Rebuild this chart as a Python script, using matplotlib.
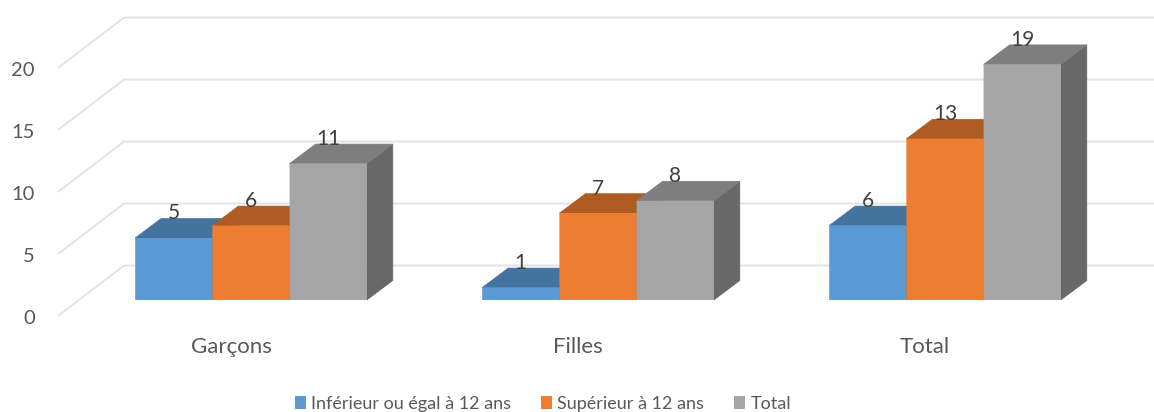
import matplotlib
matplotlib.use("Agg")
import matplotlib.pyplot as plt
from matplotlib.patches import Patch

categories = ["Garçons", "Filles", "Total"]
series_names = ["Inférieur ou égal à 12 ans", "Supérieur à 12 ans", "Total"]
inf_12 = [5, 1, 6]
sup_12 = [6, 7, 13]
total = [11, 8, 19]
y_ticks = [0, 5, 10, 15, 20]

series = [inf_12, sup_12, total]
front = ["#5B9BD5", "#ED7D31", "#A5A5A5"]
top = ["#44739F", "#B05B22", "#7E7E7E"]
side = ["#3E6A92", "#A35420", "#686868"]
grid = "#E3E3E3"
text = "#595959"
FONT = "Lato"

W, H = 1154, 412
PITCH = 347.0
UNIT = 12.4
fig = plt.figure(figsize=(W / 100, H / 100), dpi=100)
ax = fig.add_axes([0, 0, 1, 1])
# x unit = one category step, y unit = one value unit on the bars' front plane
ax.set_xlim((0 - 251) / PITCH, (W - 251) / PITCH)
ax.set_ylim((300 - H) / UNIT, 300 / UNIT)
ax.axis("off")

bw = 77.2 / PITCH
dx_bar, dy_bar = 26 / PITCH, 19.5 / UNIT      # bar depth
wall_bx, wall_by = 45 / PITCH, 34.5 / UNIT     # bar front -> back wall
wall_fx, wall_fy = -21 / PITCH, -16 / UNIT     # bar front -> floor front
left_x = (79 - 251) / PITCH                    # x of front plane's left edge
right_x = (W + 20 - 251) / PITCH

for v in y_ticks:
    xs = [left_x + wall_fx, left_x + wall_bx, right_x]
    ys = [v + wall_fy, v + wall_by, v + wall_by]
    ax.plot(xs, ys, color=grid, lw=1.4, solid_capstyle="butt", zorder=1)
    ax.text((35 - 251) / PITCH, v + wall_fy - 3 / UNIT, str(v), ha="right", va="center",
            fontsize=14.5, color=text, family=FONT)

for i, cat in enumerate(categories):
    ax.text(i - 20 / PITCH, (300 - 347) / UNIT, cat, ha="center", va="center",
            fontsize=16, color=text, family=FONT)
    for s, vals in enumerate(series):
        v = vals[i]
        x0 = i + (s - 1.5) * bw
        x1 = x0 + bw
        ax.fill([x1, x1 + dx_bar, x1 + dx_bar, x1], [0, dy_bar, v + dy_bar, v],
                facecolor=side[s], edgecolor=side[s], lw=0.5, zorder=2 + s)
        ax.fill([x0, x1, x1 + dx_bar, x0 + dx_bar], [v, v, v + dy_bar, v + dy_bar],
                facecolor=top[s], edgecolor=top[s], lw=0.5, zorder=2 + s)
        rects = ax.bar(x0, v, width=bw, bottom=0, align="edge", color=front[s], lw=0, zorder=2 + s)
        for r in rects:
            r.set_snap(False)
        ax.text(x0 + bw / 2, v + 24.5 / UNIT, str(v), ha="center", va="center",
                fontsize=15, color="#404040", family=FONT, zorder=10)

handles = [Patch(color=c, lw=0) for c in front]
ax.legend(handles, series_names, loc="lower left", bbox_to_anchor=(295 / W, 0 / H),
          bbox_transform=fig.transFigure, ncol=3, frameon=False,
          handlelength=0.61, handleheight=0.72, handletextpad=0.28, columnspacing=1.67,
          labelcolor=text, prop={"family": FONT, "size": 13},
          borderpad=0, borderaxespad=0)

fig.savefig("out.png", dpi=100)
